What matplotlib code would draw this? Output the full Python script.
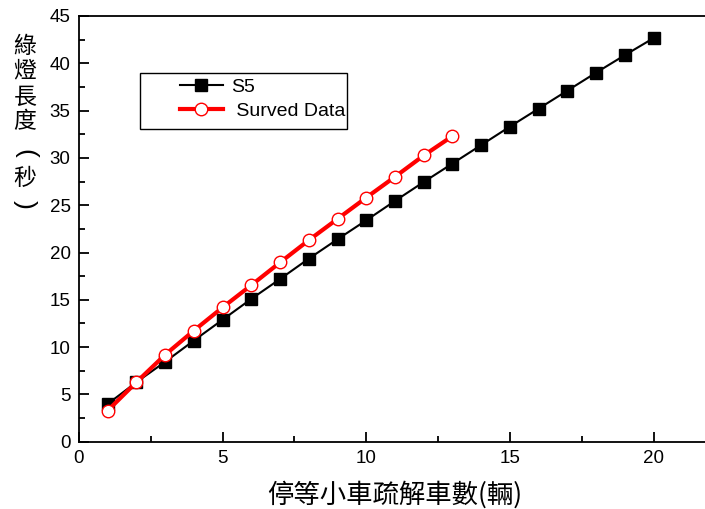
import matplotlib

matplotlib.use("Agg")
import matplotlib.pyplot as plt
from matplotlib.patches import Rectangle
from matplotlib.ticker import MultipleLocator

plt.rcParams["font.family"] = ["Liberation Sans", "DejaVu Sans"]

CJK = ["Noto Sans CJK TC", "DejaVu Sans"]

# 停等小車數 vs 綠燈長度
s5_x = list(range(1, 21))
s5_y = [4.0, 6.3, 8.45, 10.7, 12.9, 15.1, 17.2, 19.35, 21.4, 23.4,
        25.45, 27.45, 29.4, 31.35, 33.3, 35.2, 37.1, 39.0, 40.85, 42.65]
surv_x = list(range(1, 14))
surv_y = [3.3, 6.3, 9.2, 11.75, 14.2, 16.55, 18.95, 21.3, 23.55, 25.8,
          28.0, 30.25, 32.3]

W, H = 705, 509
fig = plt.figure(figsize=(W / 100, H / 100), dpi=100)
ax = fig.add_axes([0.112, 0.132, 0.8965, 0.8368])

ax.plot(s5_x, s5_y, color="black", lw=1.5, marker="s", ms=8,
        mfc="black", mec="black", label="S5", zorder=3)
ax.plot(surv_x, surv_y, color="red", lw=3, marker="o", ms=9,
        mfc="white", mec="red", mew=1.0, label=" Surved Data", zorder=4)

ax.set_xlim(0, 22)
ax.set_ylim(0, 45)
ax.xaxis.set_major_locator(MultipleLocator(5))
ax.xaxis.set_minor_locator(MultipleLocator(2.5))
ax.yaxis.set_major_locator(MultipleLocator(5))
ax.yaxis.set_minor_locator(MultipleLocator(2.5))
ax.tick_params(which="both", direction="in", top=False, right=False,
               labelsize=13.5, width=1.3)
ax.tick_params(which="major", length=7, pad=6)
ax.tick_params(which="minor", length=4)
for sp in ax.spines.values():
    sp.set_linewidth(1.3)

# legend box is wider than its entries, so the frame is drawn on its own
ax.add_patch(Rectangle((0.0965, 0.7345), 0.3275, 0.1315, transform=ax.transAxes,
                       fill=True, facecolor="white", edgecolor="black",
                       lw=1.0, zorder=5))
leg = ax.legend(loc="upper left", bbox_to_anchor=(0.16, 0.853),
                fontsize=14, frameon=False, handlelength=2.2,
                handletextpad=0.4, borderpad=0, labelspacing=0.33,
                borderaxespad=0)
leg.set_zorder(6)

fig.text(0.5 * (0.112 + 0.112 + 0.8965), 1 - 481 / H, "停等小車疏解車數(輛)",
         fontsize=19, family=CJK, ha="center", va="top")

# vertical y label, one character per line; brackets are turned on their side
ylabel_chars = ["綠", "燈", "長", "度", "(", "秒", ")"]
ylabel_y = [46, 71, 97, 122, 153, 179, 204]
for ch, py in zip(ylabel_chars, ylabel_y):
    if ch in "()":
        fig.text(25 / W, 1 - py / H, ch, fontsize=19, rotation=-90,
                 ha="center", va="center", fontweight="light")
    else:
        fig.text(25 / W, 1 - py / H, ch, fontsize=16.5, family=CJK,
                 ha="center", va="center")

fig.savefig("out.png", dpi=100)
